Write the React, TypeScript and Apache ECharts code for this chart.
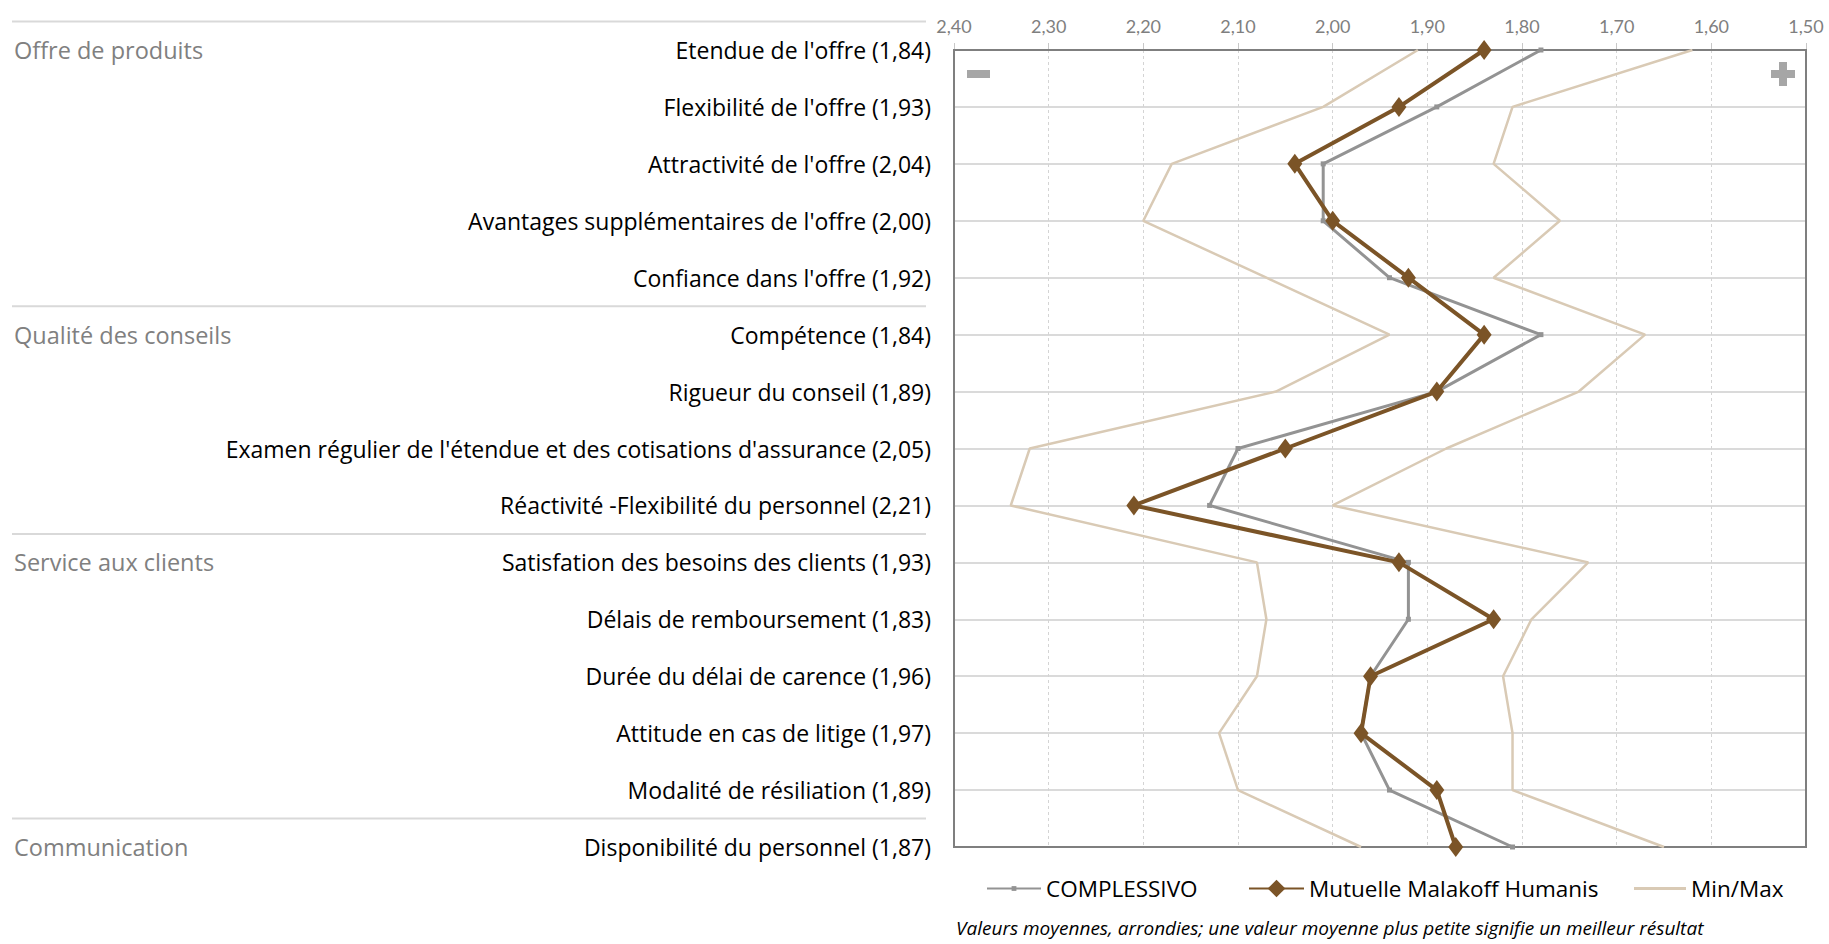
import React, { useEffect, useRef } from "react";
import * as echarts from "echarts";

const items = [
  "Etendue de l'offre",
  "Flexibilité de l'offre",
  "Attractivité de l'offre",
  "Avantages supplémentaires de l'offre",
  "Confiance dans l'offre",
  "Compétence",
  "Rigueur du conseil",
  "Examen régulier de l'étendue et des cotisations d'assurance",
  "Réactivité -Flexibilité du personnel",
  "Satisfation des besoins des clients",
  "Délais de remboursement",
  "Durée du délai de carence",
  "Attitude en cas de litige",
  "Modalité de résiliation",
  "Disponibilité du personnel",
];
const mutuelle = [1.84, 1.93, 2.04, 2.0, 1.92, 1.84, 1.89, 2.05, 2.21, 1.93, 1.83, 1.96, 1.97, 1.89, 1.87];
const complessivo = [1.78, 1.89, 2.01, 2.01, 1.94, 1.78, 1.89, 2.1, 2.13, 1.92, 1.92, 1.96, 1.97, 1.94, 1.81];
const worst = [1.91, 2.01, 2.17, 2.2, 2.07, 1.94, 2.06, 2.32, 2.34, 2.08, 2.07, 2.08, 2.12, 2.1, 1.97];
const best = [1.62, 1.81, 1.83, 1.76, 1.83, 1.67, 1.74, 1.88, 2.0, 1.73, 1.79, 1.82, 1.81, 1.81, 1.65];
const groupNames = ["Offre de produits", "Qualité des conseils", "Service aux clients", "Communication"];
const groupStarts = [0, 5, 9, 14];
const legendNames = ["COMPLESSIVO", "Mutuelle Malakoff Humanis", "Min/Max"];
const footnote =
  "Valeurs moyennes, arrondies; une valeur moyenne plus petite signifie un meilleur résultat";

const LABEL_FONT = "Open Sans";
const TICK_FONT = "Lato";
const fmt = (v: number) => v.toFixed(2).replace(".", ",");
const labels = items.map((n, i) => `${n} (${fmt(mutuelle[i])})`);

const GRID = { left: 954, right: 23, top: 50, bottom: 97 };
const W = 1829;
const H = 944;

const GREY = "#939393";
const BROWN = "#7b5427";
const BEIGE = "#d9cab5";

export default function App() {
  const ref = useRef<HTMLDivElement>(null);
  useEffect(() => {
    if (!ref.current) return;
    const chart = echarts.init(ref.current, undefined, { renderer: "svg" });
    const pairs = (arr: number[]) => arr.map((v, i) => [v, i]);
    const legendText = { fontFamily: LABEL_FONT, fontSize: 22.5, color: "#000" };
    const option: any = {
      animation: false,
      backgroundColor: "#fff",
      textStyle: { fontFamily: LABEL_FONT },
      grid: { ...GRID, containLabel: false },
      title: {
        text: footnote,
        left: 956,
        top: 918,
        padding: 0,
        textStyle: {
          fontFamily: LABEL_FONT,
          fontStyle: "italic",
          fontWeight: "normal",
          fontSize: 19,
          color: "#000",
        },
      },
      legend: [
        {
          data: [legendNames[0]],
          left: 986,
          top: 877,
          padding: 0,
          itemWidth: 54,
          itemHeight: 6,
          textStyle: legendText,
        },
        {
          data: [legendNames[1]],
          left: 1248,
          top: 877,
          padding: 0,
          itemWidth: 55,
          itemHeight: 22,
          textStyle: legendText,
        },
        {
          data: [{ name: legendNames[2], icon: "rect" }],
          left: 1634,
          top: 877,
          padding: 0,
          itemWidth: 52,
          itemHeight: 3,
          textStyle: legendText,
        },
      ],
      xAxis: {
        type: "value",
        position: "top",
        inverse: true,
        min: 1.5,
        max: 2.4,
        interval: 0.1,
        axisLine: { show: false },
        axisTick: { show: true, length: 7, lineStyle: { color: "#c8c8c8" } },
        axisLabel: {
          color: "#7f7f7f",
          fontFamily: TICK_FONT,
          fontSize: 18,
          margin: 15,
          formatter: (v: number) => fmt(v),
        },
        splitLine: { show: true, lineStyle: { color: "#d4d4d4", type: [3, 3], width: 1 } },
      },
      yAxis: [
        {
          type: "category",
          data: labels,
          inverse: true,
          boundaryGap: false,
          axisLine: { show: false },
          axisTick: { show: false },
          axisLabel: { interval: 0, color: "#000", fontFamily: LABEL_FONT, fontSize: 23, margin: 23 },
          splitLine: { show: true, interval: 0, lineStyle: { color: "#dadada", width: 2 } },
        },
        {
          type: "category",
          data: labels,
          inverse: true,
          boundaryGap: false,
          position: "left",
          axisLine: { show: false },
          axisTick: { show: false },
          splitLine: { show: false },
          axisLabel: {
            interval: 0,
            align: "left",
            margin: 940,
            color: "#808080",
            fontFamily: LABEL_FONT,
            fontSize: 23.5,
            formatter: (_v: string, i: number) => {
              const g = groupStarts.indexOf(i);
              return g >= 0 ? groupNames[g] : "";
            },
          },
        },
      ],
      series: [
        {
          name: "Min/Max",
          type: "line",
          yAxisIndex: 0,
          data: pairs(worst),
          symbol: "none",
          lineStyle: { color: BEIGE, width: 2.5 },
          itemStyle: { color: BEIGE },
          z: 3,
        },
        {
          name: "Min/Max",
          type: "line",
          yAxisIndex: 0,
          data: pairs(best),
          symbol: "none",
          lineStyle: { color: BEIGE, width: 2.5 },
          itemStyle: { color: BEIGE },
          z: 3,
        },
        {
          name: "COMPLESSIVO",
          type: "line",
          yAxisIndex: 0,
          data: pairs(complessivo),
          symbol: "rect",
          symbolSize: 5,
          lineStyle: { color: GREY, width: 3 },
          itemStyle: { color: GREY },
          z: 4,
        },
        {
          name: "Mutuelle Malakoff Humanis",
          type: "line",
          yAxisIndex: 0,
          data: pairs(mutuelle),
          symbol: "diamond",
          symbolSize: [15, 20],
          lineStyle: { color: BROWN, width: 4 },
          itemStyle: { color: BROWN },
          z: 5,
        },
      ],
    };
    chart.setOption(option);

    const y0 = chart.convertToPixel({ yAxisIndex: 0 }, 0) as number;
    const y1 = chart.convertToPixel({ yAxisIndex: 0 }, 1) as number;
    const step = y1 - y0;
    const graphics: any[] = groupStarts.map((s) => {
      const y = (chart.convertToPixel({ yAxisIndex: 0 }, s) as number) - step / 2;
      return {
        type: "line",
        shape: { x1: 12, y1: y, x2: 926, y2: y },
        style: { stroke: "#d9d9d9", lineWidth: 2 },
        z: 1,
      };
    });
    const gx = GRID.left;
    const gy = GRID.top;
    const gw = W - GRID.left - GRID.right;
    const gh = H - GRID.top - GRID.bottom;
    graphics.push({
      type: "rect",
      shape: { x: gx, y: gy, width: gw, height: gh },
      style: { fill: "none", stroke: "#7f7f7f", lineWidth: 2 },
      z: 2,
    });
    graphics.push({
      type: "rect",
      shape: { x: gx + 13, y: gy + 20, width: 23, height: 8 },
      style: { fill: "#a6a6a6" },
      z: 2,
    });
    graphics.push({
      type: "rect",
      shape: { x: gx + gw - 35, y: gy + 20, width: 24, height: 8 },
      style: { fill: "#a6a6a6" },
      z: 2,
    });
    graphics.push({
      type: "rect",
      shape: { x: gx + gw - 27, y: gy + 12, width: 8, height: 24 },
      style: { fill: "#a6a6a6" },
      z: 2,
    });
    chart.setOption({ graphic: graphics });

    return () => chart.dispose();
  }, []);
  return (
    <div
      ref={ref}
      style={{ position: "fixed", left: 0, top: 0, width: W, height: H, background: "#fff" }}
    />
  );
}
